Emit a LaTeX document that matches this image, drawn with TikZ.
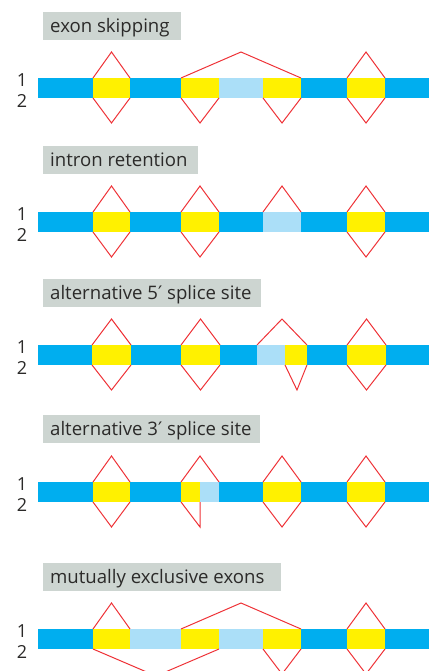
\documentclass[tikz,border=0pt]{standalone}
\usepackage{fontspec}
\setmainfont{Open Sans}
\newfontfamily\primefont{DejaVu Sans}
\newcommand{\myprime}{{\primefont ′}}
\definecolor{exblue}{HTML}{00AEEF}
\definecolor{exyellow}{HTML}{FFF100}
\definecolor{exlight}{HTML}{ABDFF8}
\definecolor{splred}{HTML}{EE3237}
\definecolor{lblgrey}{HTML}{CDD5D1}
\definecolor{txtdark}{HTML}{2B2A29}
\begin{document}
\begin{tikzpicture}[x=1pt,y=-1pt,
  lblbox/.style={fill=lblgrey},
  lbltext/.style={anchor=base west,inner sep=0pt,text=txtdark,font=\fontsize{18.6}{22}\selectfont},
  numtext/.style={anchor=center,inner sep=0pt,text=txtdark,font=\fontsize{18}{22}\selectfont},
  bluebar/.style={fill=exblue},
  exon/.style={fill=exyellow},
  alt/.style={fill=exlight},
  splice/.style={draw=splred,line width=1pt,line join=miter}]
\useasboundingbox (0,0) rectangle (429,671);
\clip (0,0) rectangle (429,671);

% ---------- panel 1: exon skipping ----------
\fill[lblbox] (43,12) rectangle (181,40);
\node[lbltext] (t1) at (50,32.5) {exon skipping};
\node[numtext] (a1) at (22,80) {1};
\node[numtext] (b1) at (22,100.5) {2};
\fill[bluebar] (38,78) rectangle (429,98);
\fill[exon] (93,78) rectangle (130,98);
\fill[exon] (181,78) rectangle (219,98);
\fill[alt] (219,78) rectangle (263,98);
\fill[exon] (263,78) rectangle (301,98);
\fill[exon] (347,78) rectangle (385,98);
\draw[splice] (93,78) -- (111.5,52) -- (130,78);
\draw[splice] (181,78) -- (241,52) -- (301,78);
\draw[splice] (347,78) -- (366,52) -- (385,78);
\draw[splice] (93,98) -- (111.5,123) -- (130,98);
\draw[splice] (181,98) -- (200,123) -- (219,98);
\draw[splice] (263,98) -- (282,123) -- (301,98);
\draw[splice] (347,98) -- (366,123) -- (385,98);

% ---------- panel 2: intron retention ----------
\fill[lblbox] (43,146) rectangle (198,174);
\node[lbltext] (t2) at (50,166.5) {intron retention};
\node[numtext] (a2) at (22,214) {1};
\node[numtext] (b2) at (22,234.5) {2};
\fill[bluebar] (38,212) rectangle (429,232);
\fill[exon] (93,212) rectangle (130,232);
\fill[exon] (181,212) rectangle (219,232);
\fill[alt] (263,212) rectangle (301,232);
\fill[exon] (347,212) rectangle (385,232);
\draw[splice] (93,212) -- (111.5,186) -- (130,212);
\draw[splice] (181,212) -- (200,186) -- (219,212);
\draw[splice] (263,212) -- (282,186) -- (301,212);
\draw[splice] (347,212) -- (366,186) -- (385,212);
\draw[splice] (93,232) -- (111.5,257) -- (130,232);
\draw[splice] (181,232) -- (200,257) -- (219,232);
\draw[splice] (347,232) -- (366,257) -- (385,232);

% ---------- panel 3: alternative 5' splice site ----------
\fill[lblbox] (43,279) rectangle (261,307);
\node[lbltext] (t3) at (50,299.5) {alternative 5\myprime\ splice site};
\node[numtext] (a3) at (22,347) {1};
\node[numtext] (b3) at (22,367.5) {2};
\fill[bluebar] (38,345) rectangle (429,365);
\fill[exon] (92,345) rectangle (131,365);
\fill[exon] (181,345) rectangle (220,365);
\fill[alt] (257,345) rectangle (285,365);
\fill[exon] (285,345) rectangle (307,365);
\fill[exon] (347,345) rectangle (386,365);
\draw[splice] (92,345) -- (111.5,319) -- (131,345);
\draw[splice] (181,345) -- (200.5,319) -- (220,345);
\draw[splice] (257,345) -- (282,319) -- (307,345);
\draw[splice] (347,345) -- (366.5,319) -- (386,345);
\draw[splice] (92,365) -- (111.5,390) -- (131,365);
\draw[splice] (181,365) -- (200.5,390) -- (220,365);
\draw[splice] (285,365) -- (297,390) -- (307,365);
\draw[splice] (347,365) -- (366.5,390) -- (386,365);

% ---------- panel 4: alternative 3' splice site ----------
\fill[lblbox] (43,415) rectangle (260,443);
\node[lbltext] (t4) at (50,435.5) {alternative 3\myprime\ splice site};
\node[numtext] (a4) at (22,484) {1};
\node[numtext] (b4) at (22,504.5) {2};
\fill[bluebar] (38,482) rectangle (429,502);
\fill[exon] (93,482) rectangle (130,502);
\fill[exon] (181,482) rectangle (200,502);
\fill[alt] (200,482) rectangle (219,502);
\fill[exon] (263,482) rectangle (301,502);
\fill[exon] (347,482) rectangle (385,502);
\draw[splice] (93,482) -- (111.5,456) -- (130,482);
\draw[splice] (181,482) -- (200,456) -- (219,482);
\draw[splice] (263,482) -- (282,456) -- (301,482);
\draw[splice] (347,482) -- (366,456) -- (385,482);
\draw[splice] (93,502) -- (111.5,527) -- (130,502);
\draw[splice] (181,502) -- (200,527) -- (200,502);
\draw[splice] (263,502) -- (282,527) -- (301,502);
\draw[splice] (347,502) -- (366,527) -- (385,502);

% ---------- panel 5: mutually exclusive exons ----------
\fill[lblbox] (43,563) rectangle (281,591);
\node[lbltext] (t5) at (50,583.5) {mutually exclusive exons};
\node[numtext] (a5) at (22,631) {1};
\node[numtext] (b5) at (22,651.5) {2};
\fill[bluebar] (38,629) rectangle (429,649);
\fill[exon] (93,629) rectangle (130,649);
\fill[alt] (130,629) rectangle (181,649);
\fill[exon] (181,629) rectangle (219,649);
\fill[alt] (219,629) rectangle (263,649);
\fill[exon] (263,629) rectangle (301,649);
\fill[exon] (347,629) rectangle (385,649);
\draw[splice] (93,629) -- (111.5,603) -- (130,629);
\draw[splice] (181,629) -- (241,603) -- (301,629);
\draw[splice] (347,629) -- (366,603) -- (385,629);
\draw[splice] (93,649) -- (156,676) -- (219,649);
\draw[splice] (263,649) -- (282,674) -- (301,649);
\draw[splice] (347,649) -- (366,674) -- (385,649);
\end{tikzpicture}
\end{document}
